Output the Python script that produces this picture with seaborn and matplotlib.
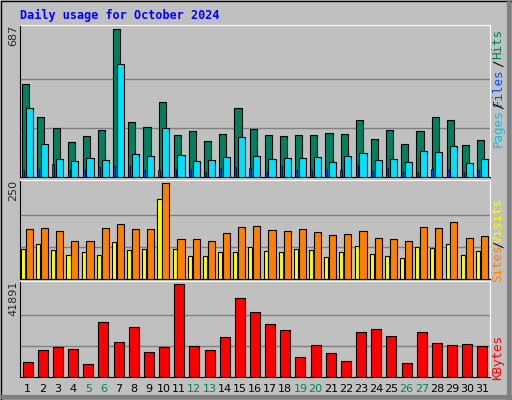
import numpy as np
import pandas as pd
import matplotlib
matplotlib.use("Agg")
import matplotlib.pyplot as plt
import seaborn as sns

days = list(range(1, 32))
weekends = [5, 6, 12, 13, 19, 20, 26, 27]

hits = [435, 280, 230, 165, 193, 221, 687, 258, 235, 347, 197, 216, 169, 202, 319, 225,
        197, 193, 197, 197, 207, 202, 267, 179, 221, 155, 216, 277, 267, 151, 174]
files = [323, 155, 85, 76, 90, 81, 524, 109, 99, 230, 104, 76, 81, 95, 188, 99,
         85, 90, 90, 95, 71, 99, 113, 81, 85, 71, 123, 118, 146, 67, 85]
pages = [34, 39, 62, 34, 34, 48, 53, 53, 34, 34, 39, 39, 25, 44, 48, 44,
         25, 53, 34, 34, 39, 34, 57, 30, 44, 25, 25, 39, 34, 25, 34]
visits = [79, 92, 76, 62, 70, 62, 97, 76, 79, 209, 79, 60, 60, 70, 70, 84,
          74, 70, 79, 76, 57, 70, 87, 65, 60, 54, 84, 81, 92, 62, 74]
sites = [130, 133, 125, 100, 100, 133, 144, 130, 130, 250, 103, 103, 100, 119, 135, 138,
         127, 125, 130, 122, 114, 117, 125, 106, 103, 100, 135, 133, 149, 106, 111]
kbytes = [6904, 11967, 13349, 12428, 5984, 24857, 15651, 22556, 11048, 13349, 41891, 13810,
          11967, 17953, 35446, 29001, 23937, 21175, 9207, 14270, 10588, 7365, 20255, 21636,
          18413, 6445, 20255, 15191, 14270, 14731, 13810]

sns.set_style("white")
plt.rcParams['font.family'] = ['DejaVu Sans Mono', 'DejaVu Sans']
BG = "#C0C0C0"

W, H = 512, 400
fig = plt.figure(figsize=(5.12, 4.0), dpi=100, facecolor=BG)

def px_axes(x0, y0, x1, y1):
    return fig.add_axes([x0 / W, 1 - y1 / H, (x1 - x0) / W, (y1 - y0) / H])

def side(y, s, c):
    fig.text(498 / W, 1 - y / H, s, color=c, rotation=90, ha='center', va='center', fontsize=9)

x = np.arange(len(days))

def setup(ax, top, label_top):
    ax.set_facecolor(BG)
    ax.set_xlim(-0.5, len(days) - 0.5)
    ax.set_ylim(0, top * 1.03)
    for g in (top / 3, top * 2 / 3):
        ax.axhline(g, color="#808080", lw=1, zorder=0)
    ax.set_xticks([])
    ax.set_yticks([])
    for k, s in ax.spines.items():
        s.set_visible(True)
        s.set_color('black' if k in ('left', 'bottom') else 'white')
    ax.text(-0.014, 1.0, label_top, transform=ax.transAxes, rotation=90,
            ha='center', va='top', fontsize=8, family='DejaVu Sans')

ek = dict(edgecolor="black", linewidth=0.8)

# top panel
ax1 = px_axes(20, 25, 490, 177)
setup(ax1, max(hits), str(max(hits)))
ax1.bar(x - 0.12, hits, width=0.47, color="#008060", zorder=2, **ek)
ax1.bar(x + 0.12, files, width=0.47, color="#00E0FF", zorder=3, **ek)
ax1.bar(x - 0.3, pages, width=0.13, color="#0040FF", zorder=4, edgecolor="black", linewidth=0.5)
side(44, "Hits", "#008060")
side(63, "/", "black")
side(87, "Files", "#0050FF")
side(105, "/", "black")
side(128, "Pages", "#00C0E0")

# middle panel
ax2 = px_axes(20, 180, 490, 279)
setup(ax2, max(sites), str(max(sites)))
ax2.bar(x - 0.3, visits, width=0.27, color="#FFFF00", zorder=2, **ek)
ax2.bar(x + 0.12, sites, width=0.47, color="#FF8000", zorder=3, **ek)
side(220, "Visits", "#FFFF00")
side(244, "/", "black")
side(263, "Sites", "#FF8000")

# bottom panel
ax3 = px_axes(20, 281, 490, 377)
df = pd.DataFrame({"day": x, "kbytes": kbytes})
sns.barplot(data=df, x="day", y="kbytes", color="#FF0000", saturation=1, width=0.66,
            native_scale=True, ax=ax3, zorder=2, **ek)
setup(ax3, max(kbytes), str(max(kbytes)))
ax3.set_xlabel("")
ax3.set_ylabel("")
side(358, "KBytes", "#FF0000")

for i, d in enumerate(days):
    fig.text((20 + (i + 0.5) * 470 / 31) / W, 1 - 389 / H, str(d), ha='center', va='center',
             fontsize=8, color="#008060" if d in weekends else "black", family='DejaVu Sans')

fig.text(20 / W, 1 - 15 / H, "Daily usage for October 2024", color="#0000FF",
         fontsize=8.5, fontweight='bold', ha='left', va='center')

# outer frame
fig.add_artist(plt.Rectangle((0.5 / W, 0.5 / H), 1 - 1 / W, 1 - 1 / H, transform=fig.transFigure,
                             fill=False, edgecolor="black", lw=1))
fig.add_artist(plt.Line2D([1 / W, 1 - 2 / W], [3 / H, 3 / H], transform=fig.transFigure, color="#808080", lw=3))
fig.add_artist(plt.Line2D([1 - 3 / W, 1 - 3 / W], [1 / H, 1 - 1 / H], transform=fig.transFigure, color="#808080", lw=3))

fig.savefig("out.png", dpi=100, facecolor=BG)
